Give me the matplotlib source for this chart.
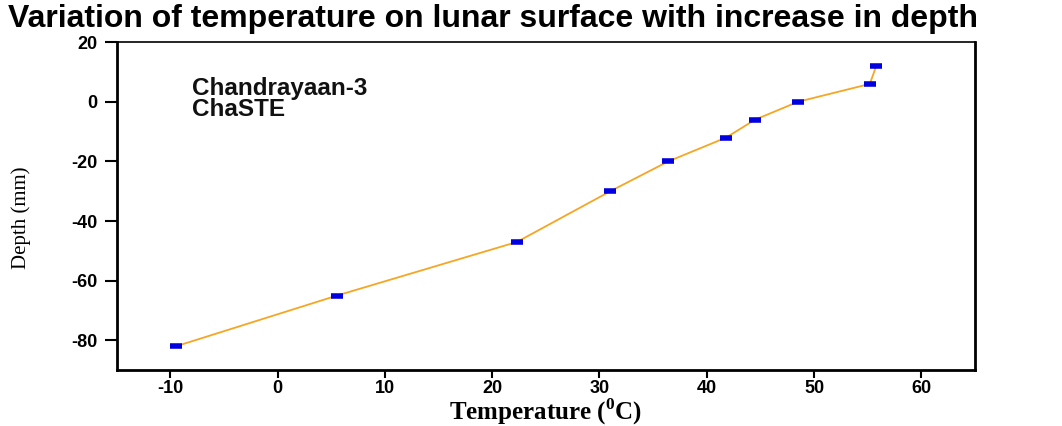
import matplotlib
matplotlib.use("Agg")
import matplotlib.pyplot as plt

temperature = [-9.5, 5.5, 22.3, 31.0, 36.4, 41.8, 44.5, 48.5, 55.2, 55.8]
depth = [-82, -65, -47, -30, -20, -12, -6, 0, 6, 12]
xticks = [-10, 0, 10, 20, 30, 40, 50, 60]
yticks = [-80, -60, -40, -20, 0, 20]

fig = plt.figure(figsize=(10.62, 4.26), dpi=100)
ax = fig.add_axes([0.110, 0.131, 0.808, 0.770])

ax.plot(temperature, depth, color="#F5A623", lw=1.3, zorder=2)
ax.plot(temperature, depth, ls="none", marker="_", ms=8, mew=4,
        color="#0000E0", zorder=3)

ax.set_xlim(-15, 65)
ax.set_ylim(-90, 20)
ax.set_xticks(xticks)
ax.set_yticks(yticks)
ax.set_xticklabels([str(v) for v in xticks], fontfamily="Liberation Sans",
                   fontweight="bold", fontsize=13)
ax.set_yticklabels([str(v) for v in yticks], fontfamily="Liberation Sans",
                   fontweight="bold", fontsize=13)
ax.tick_params(axis="x", direction="out", length=6, width=1.5, pad=1)
ax.tick_params(axis="y", direction="out", length=9, width=1.5, pad=5)

for s in ["left", "bottom", "right"]:
    ax.spines[s].set_linewidth(2.0)
ax.spines["top"].set_linewidth(1.2)

ax.set_xlabel("Temperature ($^{\\mathregular{0}}$C)", fontfamily="Liberation Serif",
              fontweight="bold", fontsize=18)
ax.xaxis.set_label_coords(0.5, -0.080)
ax.set_ylabel("Depth (mm)", fontfamily="Liberation Serif", fontsize=15)
ax.yaxis.set_label_coords(-0.100, 0.465)

fig.text(0.008, 0.955, "Variation of temperature on lunar surface with increase in depth",
         fontfamily="Liberation Sans", fontweight="bold", fontsize=23,
         ha="left", va="center")

ax.text(0.088, 0.895, "Chandrayaan-3\nChaSTE", transform=ax.transAxes,
        fontfamily="Liberation Sans", fontweight="bold", fontsize=17.5,
        ha="left", va="top", linespacing=0.9, color="#111111")

fig.savefig("out.png", dpi=100)
